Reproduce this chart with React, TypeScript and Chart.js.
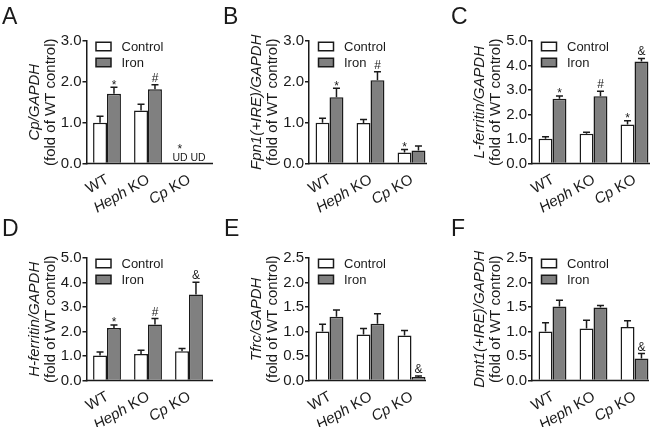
import React, { useEffect, useRef } from "react";
import { Chart, registerables } from "chart.js";

Chart.register(...registerables);

const FONT = "'Liberation Sans', Arial, Helvetica, sans-serif";
const INK = "#1a1a1a";
const GRAY = "#808080";
const W = 656;
const H = 427;

// ---- shared ----
const categories = ["WT", "Heph KO", "Cp KO"];
const italicWords = ["Heph", "Cp"];
const seriesLabels = ["Control", "Iron"];
const yTitleUnit = "(fold of WT control)";

// ---- A: Cp ----
const aTitle = "Cp/GAPDH";
const aTicks = [0, 1, 2, 3];
const aControl = [1.0, 1.3, null];
const aIron = [1.71, 1.82, null];
const aControlSem = [0.16, 0.15, null];
const aIronSem = [0.16, 0.11, null];
const aControlMarks = ["", "", "*"];
const aIronMarks = ["*", "#", ""];
const aControlNotes = ["", "", "UD"];
const aIronNotes = ["", "", "UD"];

// ---- B: Fpn1 ----
const bTitle = "Fpn1(+IRE)/GAPDH";
const bTicks = [0, 1, 2, 3];
const bControl = [1.0, 0.99, 0.27];
const bIron = [1.62, 2.04, 0.32];
const bControlSem = [0.11, 0.09, 0.07];
const bIronSem = [0.22, 0.21, 0.11];
const bControlMarks = ["", "", "*"];
const bIronMarks = ["*", "#", ""];

// ---- C: L-ferritin ----
const cTitle = "L-ferritin/GAPDH";
const cTicks = [0, 1, 2, 3, 4, 5];
const cControl = [1.01, 1.21, 1.59];
const cIron = [2.64, 2.75, 4.16];
const cControlSem = [0.08, 0.07, 0.15];
const cIronSem = [0.12, 0.2, 0.13];
const cControlMarks = ["", "", "*"];
const cIronMarks = ["*", "#", "&"];

// ---- D: H-ferritin ----
const dTitle = "H-ferritin/GAPDH";
const dTicks = [0, 1, 2, 3, 4, 5];
const dControl = [1.02, 1.08, 1.19];
const dIron = [2.14, 2.29, 3.51];
const dControlSem = [0.14, 0.15, 0.12];
const dIronSem = [0.13, 0.24, 0.5];
const dControlMarks = ["", "", ""];
const dIronMarks = ["*", "#", "&"];

// ---- E: Tfrc ----
const eTitle = "Tfrc/GAPDH";
const eTicks = [0, 0.5, 1, 1.5, 2, 2.5];
const eControl = [1.0, 0.94, 0.92];
const eIron = [1.3, 1.16, 0.07];
const eControlSem = [0.15, 0.12, 0.1];
const eIronSem = [0.14, 0.2, 0.02];
const eControlMarks = ["", "", ""];
const eIronMarks = ["", "", "&"];

// ---- F: Dmt1 ----
const fTitle = "Dmt1(+IRE)/GAPDH";
const fTicks = [0, 0.5, 1, 1.5, 2, 2.5];
const fControl = [1.0, 1.06, 1.09];
const fIron = [1.51, 1.49, 0.45];
const fControlSem = [0.18, 0.17, 0.13];
const fIronSem = [0.13, 0.04, 0.1];
const fControlMarks = ["", "", ""];
const fIronMarks = ["", "", "&"];

type Area = { left: number; right: number; top: number; bottom: number; axisEnd: number };
type Panel = {
  letter: string;
  letterX: number;
  letterY: number;
  title: string;
  ticks: number[];
  values: (number | null)[][];
  sems: (number | null)[][];
  marks: string[][];
  notes?: string[][];
  area: Area;
};

const empty = ["", "", ""];

const panels: Panel[] = [
  {
    letter: "A", letterX: 2, letterY: 24, title: aTitle, ticks: aTicks,
    values: [aControl, aIron], sems: [aControlSem, aIronSem],
    marks: [aControlMarks, aIronMarks], notes: [aControlNotes, aIronNotes],
    area: { left: 86.5, right: 209.5, top: 41, bottom: 163.5, axisEnd: 213 },
  },
  {
    letter: "B", letterX: 223, letterY: 24, title: bTitle, ticks: bTicks,
    values: [bControl, bIron], sems: [bControlSem, bIronSem],
    marks: [bControlMarks, bIronMarks],
    area: { left: 309, right: 432, top: 41, bottom: 163.5, axisEnd: 427 },
  },
  {
    letter: "C", letterX: 451, letterY: 24, title: cTitle, ticks: cTicks,
    values: [cControl, cIron], sems: [cControlSem, cIronSem],
    marks: [cControlMarks, cIronMarks],
    area: { left: 532, right: 655, top: 41, bottom: 163.5, axisEnd: 650 },
  },
  {
    letter: "D", letterX: 2, letterY: 236, title: dTitle, ticks: dTicks,
    values: [dControl, dIron], sems: [dControlSem, dIronSem],
    marks: [dControlMarks, dIronMarks],
    area: { left: 86.5, right: 209.5, top: 258, bottom: 380.5, axisEnd: 213 },
  },
  {
    letter: "E", letterX: 224, letterY: 236, title: eTitle, ticks: eTicks,
    values: [eControl, eIron], sems: [eControlSem, eIronSem],
    marks: [eControlMarks, eIronMarks],
    area: { left: 309, right: 432, top: 258, bottom: 380.5, axisEnd: 426 },
  },
  {
    letter: "F", letterX: 451, letterY: 236, title: fTitle, ticks: fTicks,
    values: [fControl, fIron], sems: [fControlSem, fIronSem],
    marks: [fControlMarks, fIronMarks],
    area: { left: 532, right: 655, top: 258, bottom: 380.5, axisEnd: 649 },
  },
];

function splitLabel(cat: string) {
  for (const w of italicWords) {
    if (cat.startsWith(w)) {
      return [
        { text: w, italic: true },
        { text: cat.slice(w.length), italic: false },
      ];
    }
  }
  return [{ text: cat, italic: false }];
}

function makePlugin(p: Panel) {
  return {
    id: "deco" + p.letter,
    afterDatasetsDraw(chart: any) {
      const ctx: CanvasRenderingContext2D = chart.ctx;
      const ys = chart.scales.y;
      const xs = chart.scales.x;
      const ca = chart.chartArea;
      ctx.save();
      ctx.strokeStyle = INK;
      ctx.fillStyle = INK;
      ctx.lineWidth = 1.5;
      // notes (e.g. UD) combined per category
      const noteTop: number[][] = [[], []];
      const noteX: number[][] = [[], []];
      if (p.notes) {
        categories.forEach((_, i) => {
          const n0 = p.notes![0][i];
          const n1 = p.notes![1][i];
          if (!n0 && !n1) return;
          ctx.font = `10.5px ${FONT}`;
          ctx.textBaseline = "alphabetic";
          ctx.textAlign = "left";
          const txt = [n0, n1].filter(Boolean).join(" ");
          const tw = ctx.measureText(txt).width;
          const cx = xs.getPixelForValue(i);
          const start = cx - tw / 2;
          const baseY = ca.bottom - 3;
          ctx.fillText(txt, start, baseY);
          const w0 = ctx.measureText(n0 || "").width;
          const wSp = ctx.measureText(n0 + " ").width;
          const w1 = ctx.measureText(n1 || "").width;
          noteX[0][i] = start + w0 / 2;
          noteX[1][i] = start + wSp + w1 / 2;
          noteTop[0][i] = baseY - 8.6;
          noteTop[1][i] = baseY - 8.6;
        });
      }
      p.values.forEach((vals, di) => {
        const meta = chart.getDatasetMeta(di);
        vals.forEach((v, i) => {
          const bar = meta.data[i];
          let x = bar && Number.isFinite(bar.x) ? bar.x : NaN;
          let top: number;
          if (v == null) {
            if (noteTop[di][i] == null) return;
            top = noteTop[di][i];
            x = noteX[di][i];
          } else {
            const s = p.sems[di][i] ?? 0;
            const y0 = ys.getPixelForValue(v);
            const y1 = ys.getPixelForValue(v + s);
            ctx.beginPath();
            ctx.moveTo(x, y0);
            ctx.lineTo(x, y1);
            ctx.moveTo(x - 3.5, y1);
            ctx.lineTo(x + 3.5, y1);
            ctx.stroke();
            top = y1;
          }
          const m = p.marks[di][i];
          if (m) {
            ctx.font = `12px ${FONT}`;
            ctx.textAlign = "center";
            ctx.textBaseline = "alphabetic";
            const by = m === "*" ? top + 1.5 : top - 3;
            ctx.fillText(m, x, by);
          }
        });
      });
      ctx.restore();
    },
    afterDraw(chart: any) {
      const ctx: CanvasRenderingContext2D = chart.ctx;
      const ca = chart.chartArea;
      const xs = chart.scales.x;
      ctx.save();
      ctx.strokeStyle = INK;
      ctx.fillStyle = INK;
      // x axis line
      ctx.lineWidth = 1.5;
      ctx.beginPath();
      ctx.moveTo(ca.left - 0.75, ca.bottom);
      ctx.lineTo(p.area.axisEnd, ca.bottom);
      ctx.stroke();
      // x labels
      categories.forEach((cat, i) => {
        const parts = splitLabel(cat);
        const cx = xs.getPixelForValue(i);
        ctx.save();
        ctx.translate(cx + 0.5, ca.bottom + 15);
        ctx.rotate(-Math.PI / 6);
        ctx.textBaseline = "middle";
        ctx.textAlign = "left";
        const widths = parts.map((pt) => {
          ctx.font = `${pt.italic ? "italic " : ""}15px ${FONT}`;
          return ctx.measureText(pt.text).width;
        });
        let x = -widths.reduce((a, b) => a + b, 0);
        parts.forEach((pt, k) => {
          ctx.font = `${pt.italic ? "italic " : ""}15px ${FONT}`;
          ctx.fillText(pt.text, x, 0);
          x += widths[k];
        });
        ctx.restore();
      });
      // y title
      const cy = (ca.top + ca.bottom) / 2;
      const lines = [
        { text: p.title, italic: true, x: ca.left - 52 },
        { text: yTitleUnit, italic: false, x: ca.left - 36 },
      ];
      lines.forEach((ln) => {
        ctx.save();
        ctx.translate(ln.x, cy);
        ctx.rotate(-Math.PI / 2);
        ctx.font = `${ln.italic ? "italic " : ""}15px ${FONT}`;
        ctx.textAlign = "center";
        ctx.textBaseline = "middle";
        ctx.fillText(ln.text, 0, 0);
        ctx.restore();
      });
      // legend
      const fills = ["#ffffff", GRAY];
      seriesLabels.forEach((lab, k) => {
        const y = ca.top + 5.5 + k * 16;
        ctx.fillStyle = fills[k];
        ctx.fillRect(ca.left + 9.5, y - 4.25, 15, 8.5);
        ctx.lineWidth = 1.5;
        ctx.strokeStyle = INK;
        ctx.strokeRect(ca.left + 9.5, y - 4.25, 15, 8.5);
        ctx.fillStyle = INK;
        ctx.font = `13px ${FONT}`;
        ctx.textAlign = "left";
        ctx.textBaseline = "middle";
        ctx.fillText(lab, ca.left + 35, y + 0.5);
      });
      // panel letter
      ctx.font = `23px ${FONT}`;
      ctx.textAlign = "left";
      ctx.textBaseline = "alphabetic";
      ctx.fillStyle = INK;
      ctx.fillText(p.letter, p.letterX, p.letterY);
      ctx.restore();
    },
  };
}

function PanelChart({ p }: { p: Panel }) {
  const ref = useRef<HTMLCanvasElement>(null);
  useEffect(() => {
    const a = p.area;
    const chart = new Chart(ref.current as HTMLCanvasElement, {
      type: "bar",
      data: {
        labels: categories,
        datasets: [
          {
            label: seriesLabels[0],
            data: p.values[0] as any,
            backgroundColor: "#ffffff",
            borderColor: INK,
            borderWidth: 1.5,
            categoryPercentage: 0.68,
            barPercentage: 1.0,
          },
          {
            label: seriesLabels[1],
            data: p.values[1] as any,
            backgroundColor: GRAY,
            borderColor: INK,
            borderWidth: 1.5,
            categoryPercentage: 0.68,
            barPercentage: 1.0,
          },
        ],
      },
      options: {
        responsive: false,
        animation: false,
        events: [],
        layout: {
          padding: { left: a.left - 50, top: a.top, right: W - a.right, bottom: H - a.bottom },
        },
        plugins: {
          legend: { display: false },
          tooltip: { enabled: false },
          title: { display: false },
        },
        scales: {
          x: {
            type: "category",
            offset: true,
            grid: { display: false },
            border: { display: false },
            ticks: { display: false },
            afterFit: (s: any) => {
              s.height = 0;
            },
          },
          y: {
            type: "linear",
            min: p.ticks[0],
            max: p.ticks[p.ticks.length - 1],
            afterBuildTicks: (s: any) => {
              s.ticks = p.ticks.map((v) => ({ value: v }));
            },
            afterFit: (s: any) => {
              s.width = 50;
            },
            grid: {
              display: true,
              drawOnChartArea: false,
              drawTicks: true,
              tickLength: 4,
              color: INK,
              lineWidth: 1.5,
            },
            border: { display: true, color: INK, width: 1.5 },
            ticks: {
              font: { family: FONT, size: 15 },
              color: INK,
              padding: 1,
              callback: (v: any) => Number(v).toFixed(1),
            },
          },
        },
      } as any,
      plugins: [makePlugin(p)],
    });
    return () => chart.destroy();
  }, []);
  return (
    <canvas
      ref={ref}
      width={W}
      height={H}
      style={{ position: "absolute", left: 0, top: 0, width: W, height: H }}
    />
  );
}

export default function App() {
  return (
    <div style={{ position: "absolute", left: 0, top: 0, width: W, height: H, background: "#fff" }}>
      {panels.map((p) => (
        <PanelChart key={p.letter} p={p} />
      ))}
    </div>
  );
}
